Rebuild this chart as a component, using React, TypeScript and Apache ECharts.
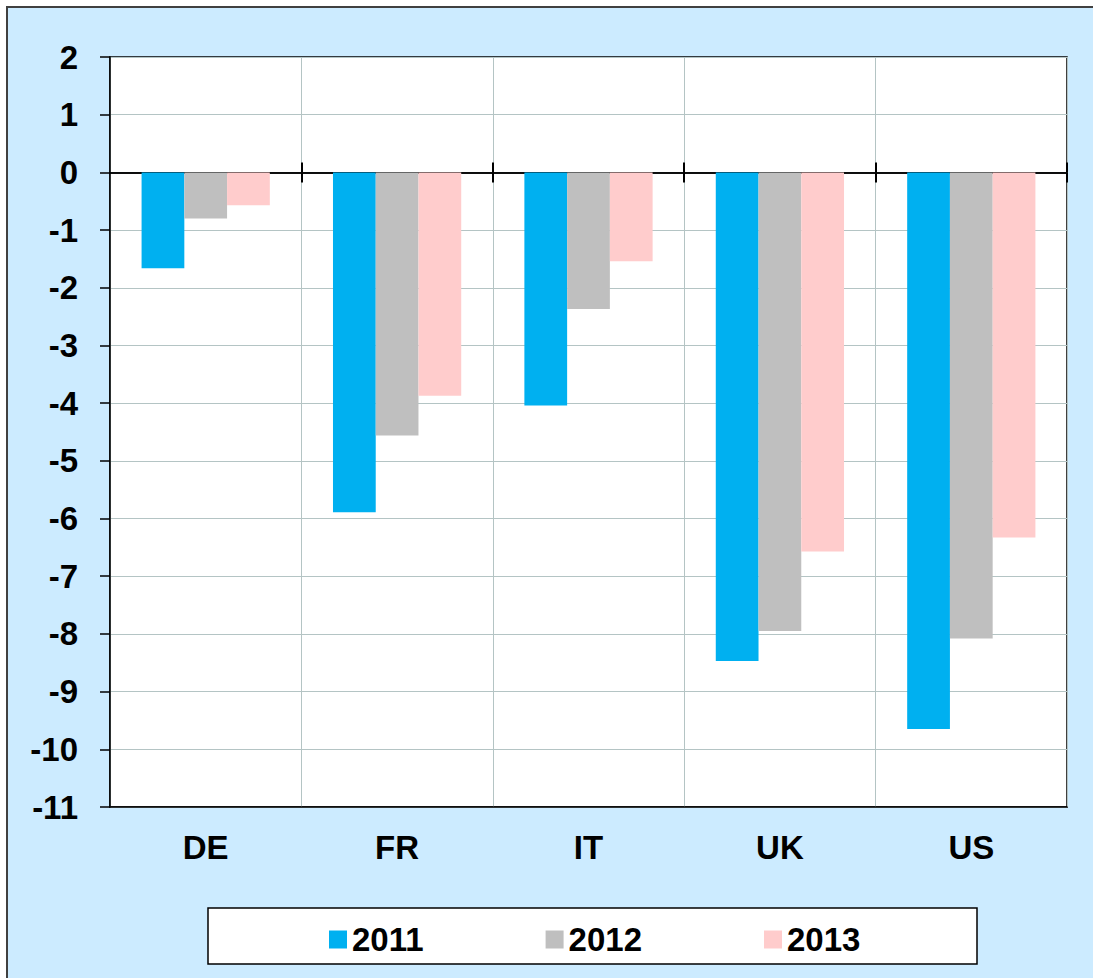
import React, { useEffect, useRef } from "react";
import * as echarts from "echarts";

const categories = ["DE", "FR", "IT", "UK", "US"];
const years = ["2011", "2012", "2013"];
const values2011 = [-1.66, -5.89, -4.04, -8.47, -9.65];
const values2012 = [-0.8, -4.56, -2.37, -7.95, -8.08];
const values2013 = [-0.57, -3.87, -1.54, -6.57, -6.33];
const colors = ["#00B0F0", "#BFBFBF", "#FFCCCC"];
const yMin = -11;
const yMax = 2;

const FONT = "'Liberation Sans', Arial, sans-serif";

export default function App() {
  const ref = useRef<HTMLDivElement>(null);
  useEffect(() => {
    if (!ref.current) return;
    const chart = echarts.init(ref.current, null, { renderer: "svg" });
    const seriesData = [values2011, values2012, values2013];
    const gridRect = { left: 110, top: 57, right: 26, bottom: 171 };
    const zeroAxis = (inside: boolean, gridIndex: number) => ({
      type: "category",
      data: categories,
      gridIndex,
      position: "bottom",
      axisLine: { onZero: true, lineStyle: { color: "#000", width: 1.5 } },
      axisTick: {
        show: true,
        inside,
        length: 10,
        interval: (i: number) => i > 0 && i < categories.length,
        lineStyle: { color: "#000", width: 2 },
      },
      axisLabel: { show: false },
      splitLine: { show: false },
    });
    const hiddenY = (gridIndex: number) => ({
      type: "value",
      gridIndex,
      min: yMin,
      max: yMax,
      interval: 1,
      show: false,
    });
    chart.setOption({
      animation: false,
      backgroundColor: "#ffffff",
      graphic: [
        {
          type: "rect",
          shape: { x: 7, y: 7, width: 1100, height: 1000 },
          style: { fill: "#CCEBFF", stroke: "#404040", lineWidth: 2 },
          z: -10,
        },
        {
          type: "rect",
          shape: { x: 208, y: 908, width: 769, height: 56 },
          style: { fill: "#ffffff", stroke: "#000000", lineWidth: 1.5 },
          z: -5,
        },
      ],
      grid: [
        {
          ...gridRect,
          show: true,
          backgroundColor: "#ffffff",
          borderColor: "#000000",
          borderWidth: 1.5,
        },
        { ...gridRect },
        { ...gridRect },
      ],
      legend: {
        data: years,
        left: 324,
        top: 918,
        itemWidth: 18,
        itemHeight: 18,
        itemGap: 122,
        icon: "rect",
        textStyle: { fontFamily: FONT, fontWeight: "bold", fontSize: 33, color: "#000" },
      },
      xAxis: [
        {
          type: "category",
          data: categories,
          gridIndex: 0,
          position: "bottom",
          axisLine: { onZero: false, lineStyle: { color: "#000", width: 1.5 } },
          axisTick: { show: false },
          axisLabel: { fontFamily: FONT, fontWeight: "bold", fontSize: 33, color: "#000", margin: 24 },
          splitLine: { show: true, lineStyle: { color: "#B4C4C4", width: 1 } },
        },
        zeroAxis(false, 1),
        zeroAxis(true, 2),
      ],
      yAxis: [
        {
          type: "value",
          gridIndex: 0,
          min: yMin,
          max: yMax,
          interval: 1,
          axisLine: { show: true, lineStyle: { color: "#000", width: 1.5 } },
          axisTick: { show: true, length: 10, lineStyle: { color: "#000", width: 1.5 } },
          axisLabel: { fontFamily: FONT, fontWeight: "bold", fontSize: 33, color: "#000", margin: 32 },
          splitLine: { show: true, lineStyle: { color: "#B4C4C4", width: 1 } },
        },
        hiddenY(1),
        hiddenY(2),
      ],
      series: years.map((y, i) => ({
        name: y,
        type: "bar",
        xAxisIndex: 0,
        yAxisIndex: 0,
        data: seriesData[i],
        barGap: "0%",
        barCategoryGap: "33%",
        itemStyle: { color: colors[i] },
        z: 1,
      })),
    });
    return () => chart.dispose();
  }, []);
  return (
    <div
      ref={ref}
      style={{ position: "absolute", left: 0, top: 0, width: 1093, height: 978 }}
    />
  );
}
